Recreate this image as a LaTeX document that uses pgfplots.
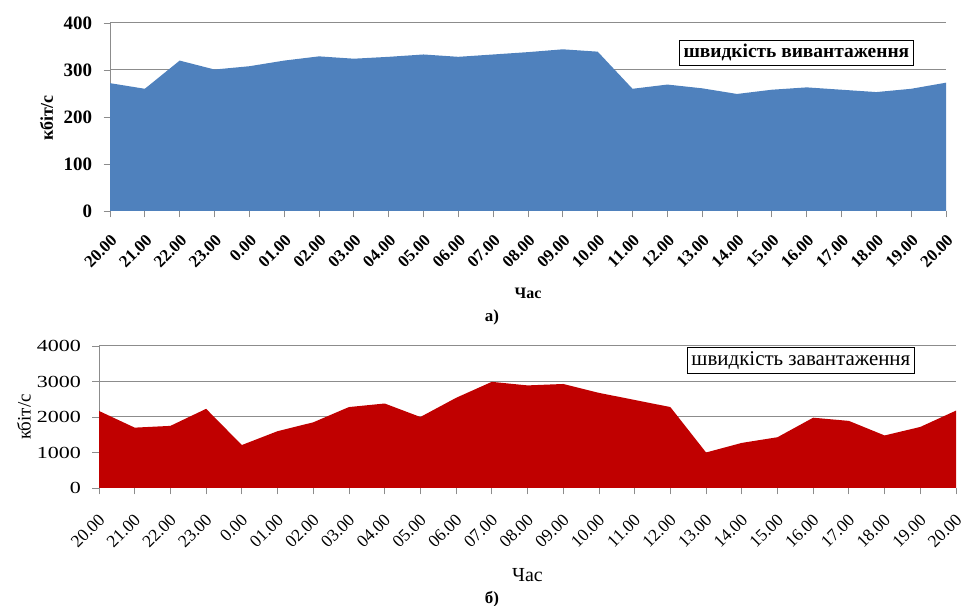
\documentclass[border=0pt]{standalone}
\usepackage{pgfplots}
\pgfplotsset{compat=1.18}
\usepackage{fontspec}
\setmainfont{Liberation Serif}
\newfontfamily\widefont[FakeStretch=1.3]{Liberation Serif}
\definecolor{upblue}{HTML}{4F81BD}
\definecolor{dnred}{HTML}{C00000}
\definecolor{gridgray}{HTML}{8C8C8C}
\pgfplotsset{
  mystyle/.style={
    scale only axis,
    xmin=0, xmax=24, ymin=0,
    axis x line*=bottom, axis y line*=left,
    axis line style={gridgray, line width=1pt},
    ymajorgrids, major grid style={gridgray, line width=1pt},
    xtick={0,...,24},
    xticklabels={20.00,21.00,22.00,23.00,0.00,01.00,02.00,03.00,04.00,05.00,06.00,07.00,08.00,09.00,10.00,11.00,12.00,13.00,14.00,15.00,16.00,17.00,18.00,19.00,20.00},
    tick align=outside, major tick length=6.5bp,
    tick style={gridgray, line width=0.8pt},
    /pgf/number format/assume math mode=true,
    /pgf/number format/1000 sep={},
    ylabel={кбіт/с},
    xlabel={Час},
  }
}
\begin{document}
\begin{tikzpicture}[x=1bp,y=1bp]
\useasboundingbox (0,0) rectangle (961,606);
% top chart
\begin{axis}[mystyle,
  at={(110bp,395bp)}, anchor=south west,
  width=836bp, height=188bp,
  ymax=400, ytick={0,100,200,300,400},
  x tick label style={xshift=0bp, yshift=-16bp, rotate=45, anchor=north east, inner sep=0pt, font=\bfseries\fontsize{17}{17}\selectfont},
  y tick label style={font=\bfseries\fontsize{19}{19}\selectfont, xshift=-8bp},
  ylabel style={font=\bfseries\fontsize{18}{18}\selectfont, at={(axis description cs:-0.076,0.495)}, anchor=center},
  xlabel style={font=\bfseries\fontsize{16}{16}\selectfont, at={(axis description cs:0.5,-0.436)}, anchor=center},
]
\addplot[fill=upblue, draw=none] coordinates {
(0,272) (1,260) (2,320) (3,301) (4,308) (5,320) (6,329) (7,324) (8,328) (9,333)
(10,328) (11,333) (12,338) (13,344) (14,339) (15,260) (16,269) (17,261) (18,249)
(19,258) (20,263) (21,258) (22,253) (23,260) (24,273)
} \closedcycle;
\node[draw=black, line width=1.2pt, fill=white, inner sep=4pt, font=\bfseries\fontsize{19.5}{19.5}\selectfont]
  at (rel axis cs:0.821,0.841) {швидкість вивантаження};
\end{axis}
\node[font=\bfseries\fontsize{17}{17}\selectfont] at (492,289) {а)};
% bottom chart
\begin{axis}[mystyle,
  at={(99bp,118bp)}, anchor=south west,
  width=857bp, height=142bp,
  ymax=4000, ytick={0,1000,2000,3000,4000},
  x tick label style={xshift=-1.5bp, yshift=-18bp, rotate=45, anchor=north east, inner sep=0pt, font=\fontsize{17.5}{17.5}\selectfont},
  y tick label style={font=\widefont\fontsize{17}{17}\selectfont, xshift=-8bp},
  ylabel style={font=\fontsize{19}{19}\selectfont, at={(axis description cs:-0.0875,0.5)}, anchor=center},
  xlabel style={font=\fontsize{20}{20}\selectfont, at={(axis description cs:0.5,-0.613)}, anchor=center},
]
\addplot[fill=dnred, draw=none] coordinates {
(0,2170) (1,1700) (2,1750) (3,2230) (4,1210) (5,1600) (6,1850) (7,2280) (8,2380) (9,2000)
(10,2540) (11,2990) (12,2890) (13,2930) (14,2680) (15,2480) (16,2280) (17,1000) (18,1270)
(19,1430) (20,1980) (21,1890) (22,1480) (23,1720) (24,2180)
} \closedcycle;
\node[draw=black, line width=1.2pt, fill=white, inner sep=4pt, font=\fontsize{21}{21}\selectfont]
  at (rel axis cs:0.819,0.899) {швидкість завантаження};
\end{axis}
\node[font=\bfseries\fontsize{17}{17}\selectfont] at (492,7) {б)};
\end{tikzpicture}
\end{document}
